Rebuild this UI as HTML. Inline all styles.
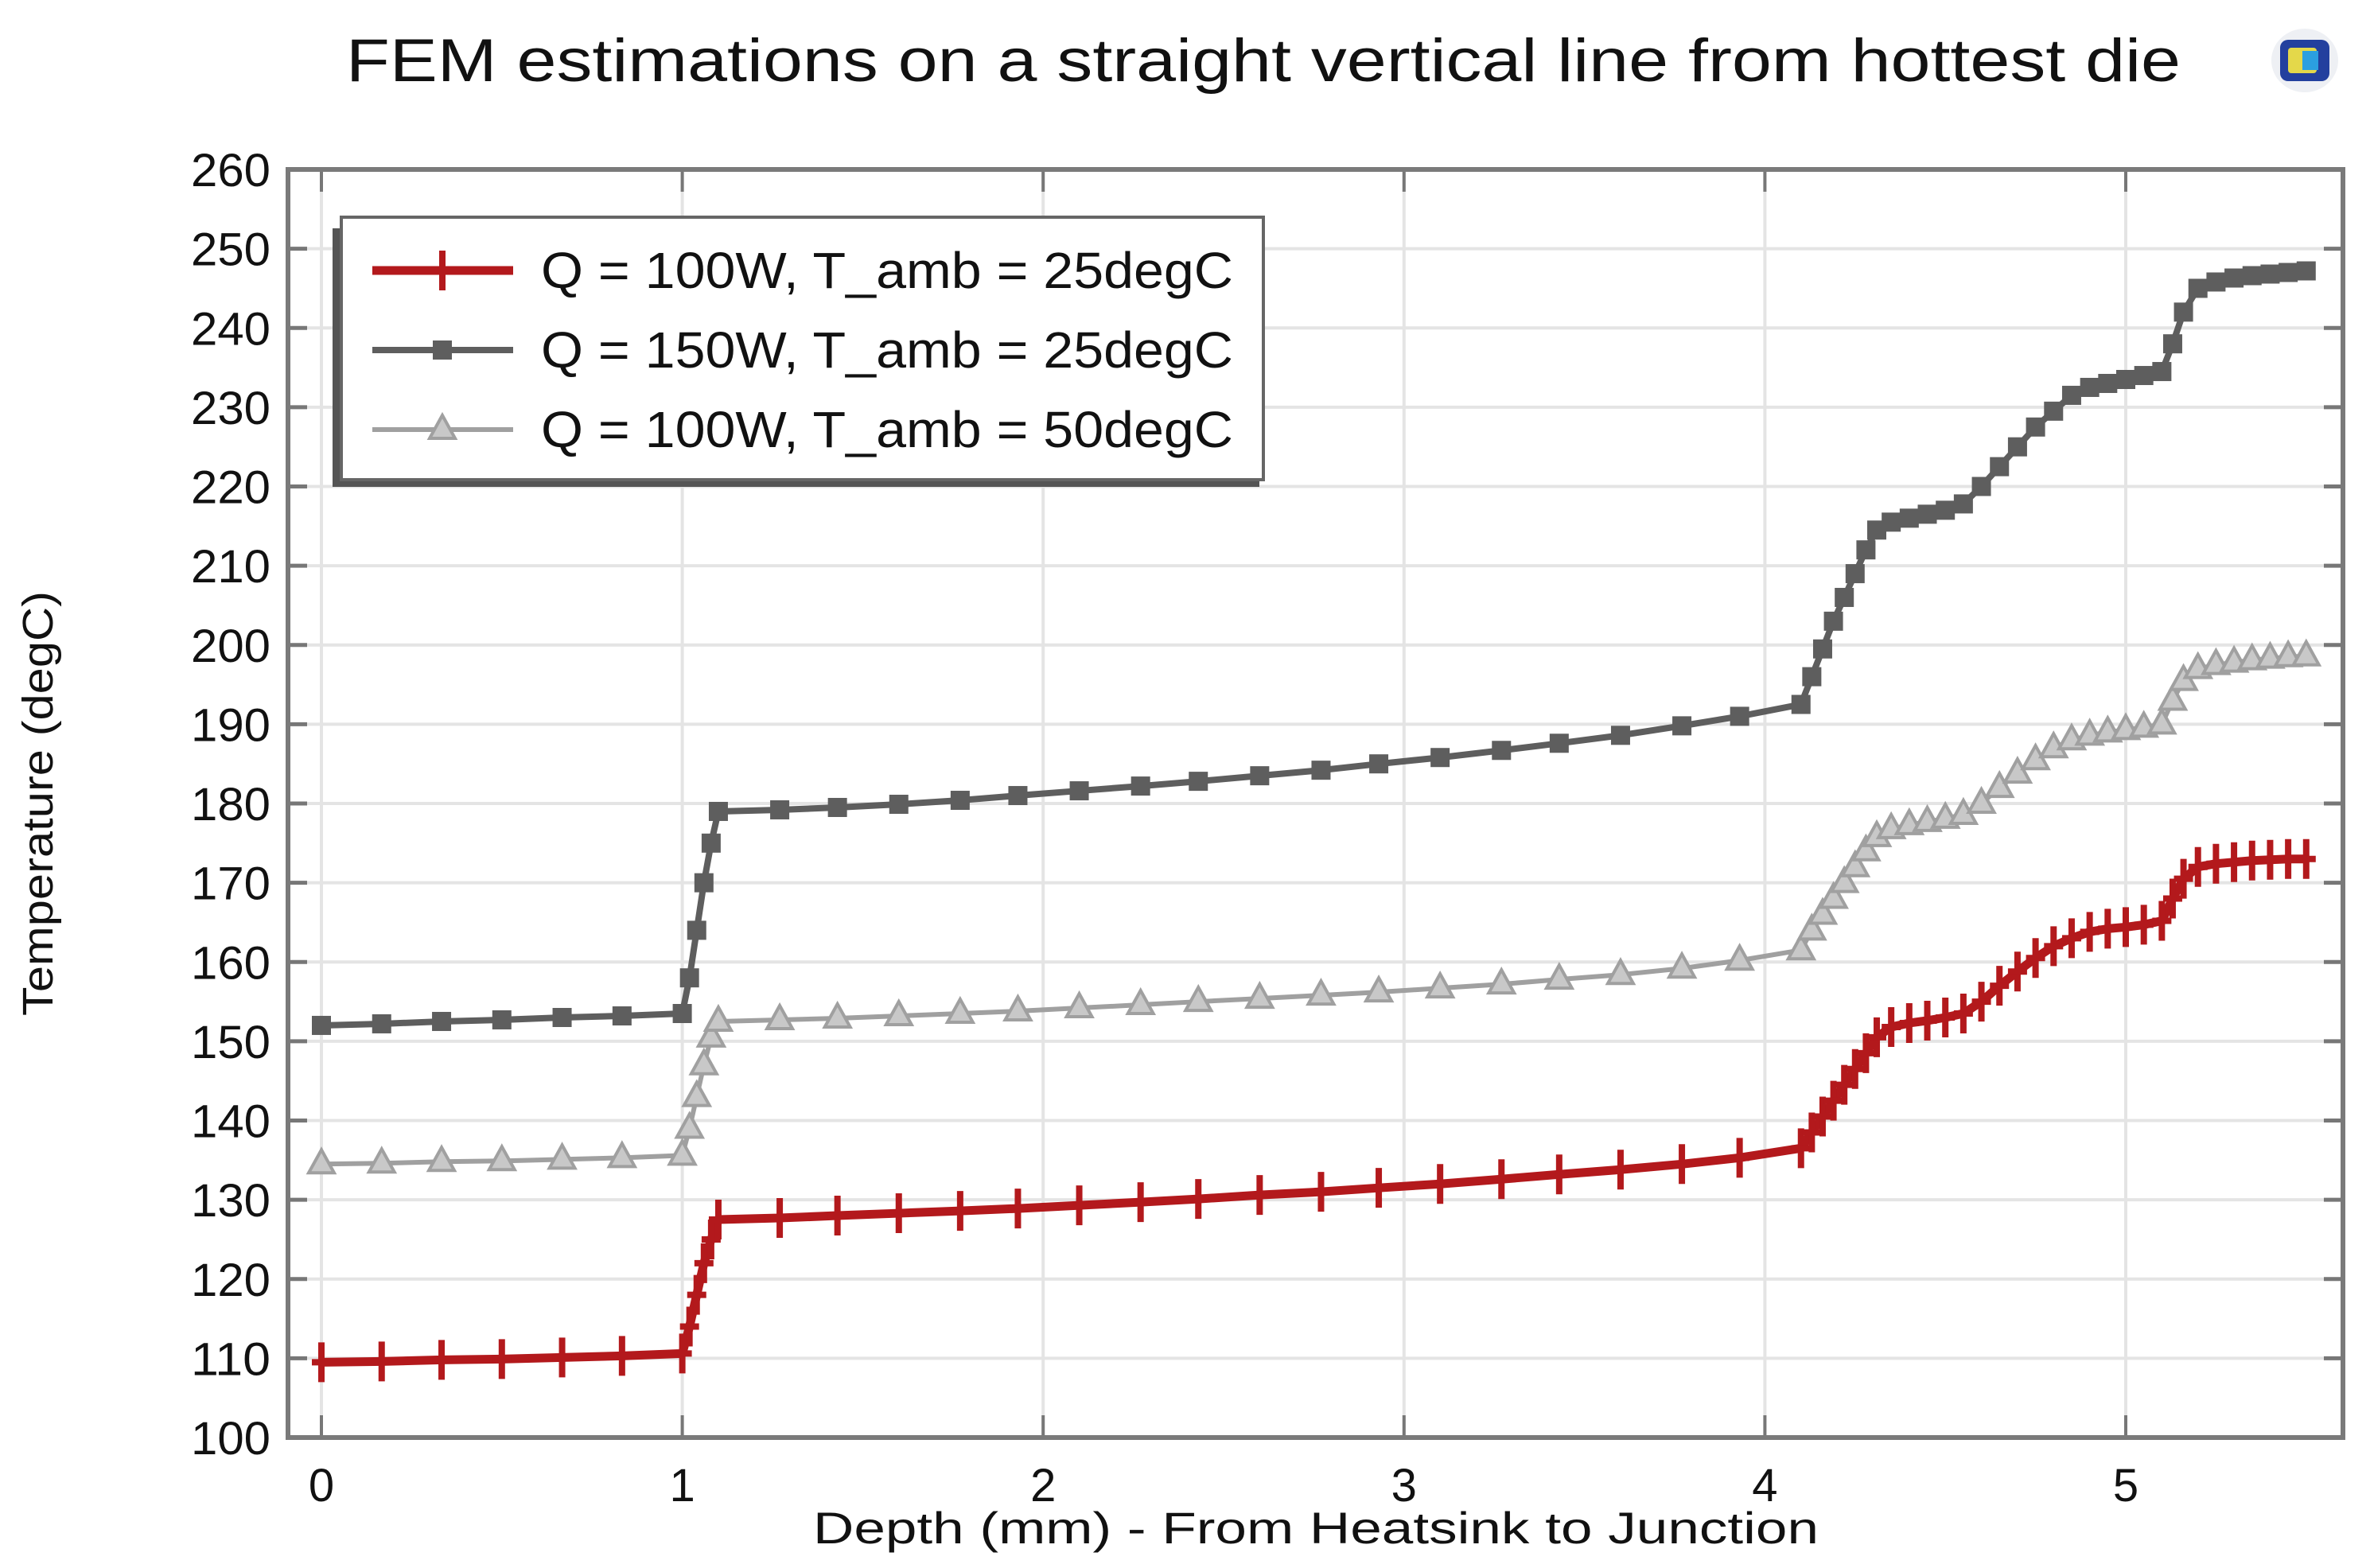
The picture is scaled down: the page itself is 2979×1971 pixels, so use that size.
<!DOCTYPE html>
<html><head><meta charset="utf-8"><style>
html,body{margin:0;padding:0;background:#fff;}
svg{display:block;font-family:"Liberation Sans","DejaVu Sans",sans-serif;}
</style></head><body>
<svg id="chart" width="2979" height="1971" viewBox="0 0 2979 1971" xmlns="http://www.w3.org/2000/svg">
<text x="1588" y="102" font-size="76" text-anchor="middle" fill="#111" textLength="2306" lengthAdjust="spacingAndGlyphs">FEM estimations on a straight vertical line from hottest die</text>
<g>
<ellipse cx="2897" cy="76" rx="42" ry="40" fill="#eef0f4"/>
<rect x="2866" y="50" width="62" height="52" rx="10" fill="#23409e"/>
<rect x="2876" y="60" width="36" height="32" rx="4" fill="#e4d84a"/>
<rect x="2894" y="64" width="20" height="24" fill="#2b9fe0"/>
</g>
<g id="grid"></g>
<g id="axes"></g>
<g id="series"></g>
<g id="legend"></g>
<text x="0" y="0" font-size="54" text-anchor="middle" fill="#111" textLength="534" lengthAdjust="spacingAndGlyphs" transform="translate(66 1010) rotate(-90)">Temperature (degC)</text>
<text x="1654" y="1940" font-size="56" text-anchor="middle" fill="#111" textLength="1264" lengthAdjust="spacingAndGlyphs">Depth (mm)    -   From Heatsink to Junction</text>
</svg>
<script>
const depthX = [0,0.167,0.333,0.5,0.667,0.833,1.0,1.02,1.04,1.06,1.08,1.1,1.27,1.43,1.6,1.77,1.93,2.1,2.27,2.43,2.6,2.77,2.93,3.1,3.27,3.43,3.6,3.77,3.93,4.1,4.13,4.16,4.19,4.22,4.25,4.28,4.31,4.35,4.4,4.45,4.5,4.55,4.6,4.65,4.7,4.75,4.8,4.85,4.9,4.95,5.0,5.05,5.1,5.13,5.16,5.2,5.25,5.3,5.35,5.4,5.45,5.5];
const tempQ100A25 = [109.5,109.6,109.8,109.9,110.1,110.3,110.6,114,118,122,125,127.5,127.7,128.0,128.3,128.6,128.9,129.3,129.7,130.1,130.6,131.0,131.5,132.0,132.6,133.2,133.8,134.5,135.3,136.5,138.5,140.5,142.5,144.5,146.5,148.5,150.5,151.8,152.3,152.6,153.0,153.5,155,157,158.8,160.5,162,163,163.8,164.2,164.4,164.7,165.2,168,170.5,172,172.4,172.6,172.8,172.9,173,173];
const tempQ150A25 = [152,152.2,152.5,152.7,153,153.2,153.5,158,164,170,175,179,179.2,179.5,179.9,180.4,181,181.6,182.2,182.8,183.5,184.2,185,185.8,186.7,187.6,188.6,189.8,191,192.5,196,199.5,203,206,209,212,214.5,215.5,216,216.5,217,217.8,220,222.5,225,227.5,229.5,231.5,232.5,233,233.5,234,234.5,238,242,245,245.8,246.3,246.6,246.8,247,247.2];
const tempQ100A50 = [134.5,134.6,134.8,134.9,135.1,135.3,135.6,139,143,147,150.5,152.5,152.7,152.9,153.2,153.5,153.8,154.2,154.6,155,155.4,155.8,156.2,156.7,157.2,157.8,158.4,159.2,160.2,161.5,164,166,168,170,172,174,175.8,176.8,177.3,177.7,178.1,178.6,180,182,183.8,185.5,187,188,188.6,189,189.3,189.6,190,193,195.5,197,197.5,197.8,198.1,198.3,198.5,198.6];
const yTicks = [100,110,120,130,140,150,160,170,180,190,200,210,220,230,240,250,260];
const xTicks = [0,1,2,3,4,5];
const legendLabels = ["Q = 100W, T_amb = 25degC","Q = 150W, T_amb = 25degC","Q = 100W, T_amb = 50degC"];

const NS="http://www.w3.org/2000/svg";
const L=362,R=2945,T=213,B=1807;
const X0=404,XPER=(2672-404)/5;
function sx(v){return X0+v*XPER;}
function sy(v){return B-(v-100)*(B-T)/160;}
function mk(tag,attrs,parent){const e=document.createElementNS(NS,tag);for(const k in attrs)e.setAttribute(k,attrs[k]);parent.appendChild(e);return e;}
const grid=document.getElementById('grid'),axes=document.getElementById('axes'),ser=document.getElementById('series'),leg=document.getElementById('legend');

mk('rect',{x:L,y:T,width:R-L,height:B-T,fill:'#fff'},grid);
yTicks.forEach(v=>{
  const g=mk('line',{x1:L,x2:R,y1:sy(v),y2:sy(v),stroke:'#e4e4e4','stroke-width':4},grid);
  
  
  mk('line',{x1:L,x2:L+24,y1:sy(v),y2:sy(v),stroke:'#777','stroke-width':5},axes);
  mk('line',{x1:R-24,x2:R,y1:sy(v),y2:sy(v),stroke:'#777','stroke-width':5},axes);
  const t=mk('text',{x:L-22,y:sy(v)+21,'font-size':58,'text-anchor':'end',fill:'#111',textLength:100,lengthAdjust:'spacingAndGlyphs'},axes);
  t.textContent=v;
  
  
});
xTicks.forEach(v=>{
  const g=mk('line',{x1:sx(v),x2:sx(v),y1:T,y2:B,stroke:'#e4e4e4','stroke-width':4},grid);
  
  
  mk('line',{x1:sx(v),x2:sx(v),y1:B-28,y2:B,stroke:'#777','stroke-width':4},axes);
  mk('line',{x1:sx(v),x2:sx(v),y1:T,y2:T+28,stroke:'#777','stroke-width':4},axes);
  const t=mk('text',{x:sx(v),y:B+80,'font-size':58,'text-anchor':'middle',fill:'#111'},axes);
  t.textContent=v;
  
  
});
const frame=mk('rect',{x:L,y:T,width:R-L,height:B-T,fill:'none',stroke:'#7a7a7a','stroke-width':6},axes);



const styles=[
 {c:'#b3191c',w:11,m:'plus',name:'series-q100-t25'},
 {c:'#5e5e5e',w:8,m:'square',name:'series-q150-t25'},
 {c:'#a0a0a0',w:6,m:'triangle',name:'series-q100-t50'}];
const data=[tempQ100A25,tempQ150A25,tempQ100A50];
function marker(type,x,y,c,parent){
  if(type==='plus'){
    mk('line',{x1:x,x2:x,y1:y-25,y2:y+25,stroke:c,'stroke-width':8},parent);
    mk('line',{x1:x-12,x2:x+12,y1:y,y2:y,stroke:c,'stroke-width':8},parent);
  }else if(type==='square'){
    mk('rect',{x:x-12,y:y-12,width:24,height:24,fill:c},parent);
  }else{
    mk('polygon',{points:`${x},${y-18} ${x-16},${y+11} ${x+16},${y+11}`,fill:'#c8c8c8',stroke:c,'stroke-width':4},parent);
  }
}
[2,1,0].forEach(i=>{
  const s=styles[i];
  const g=mk('g',{},ser);
  
  
  const pts=depthX.map((x,j)=>sx(x)+','+sy(data[i][j])).join(' ');
  mk('polyline',{points:pts,fill:'none',stroke:s.c,'stroke-width':s.w,'stroke-linejoin':'round'},g);
  depthX.forEach((x,j)=>marker(s.m,sx(x),sy(data[i][j]),s.c,g));
});

const lg=mk('g',{},leg);


mk('rect',{x:418,y:287,width:1165,height:325,fill:'#555'},lg);
mk('rect',{x:429,y:273,width:1159,height:330,fill:'#fff',stroke:'#666','stroke-width':4},lg);
legendLabels.forEach((lab,i)=>{
  const y=340+i*100,s=styles[i];
  const e=mk('g',{},lg);
  
  
  mk('line',{x1:468,x2:645,y1:y,y2:y,stroke:s.c,'stroke-width':s.w},e);
  marker(s.m,556,y,s.c,e);
  const t=mk('text',{x:680,y:y+22,'font-size':64,fill:'#111',textLength:870,lengthAdjust:'spacingAndGlyphs'},e);
  t.textContent=lab;
});
</script>
</body></html>
